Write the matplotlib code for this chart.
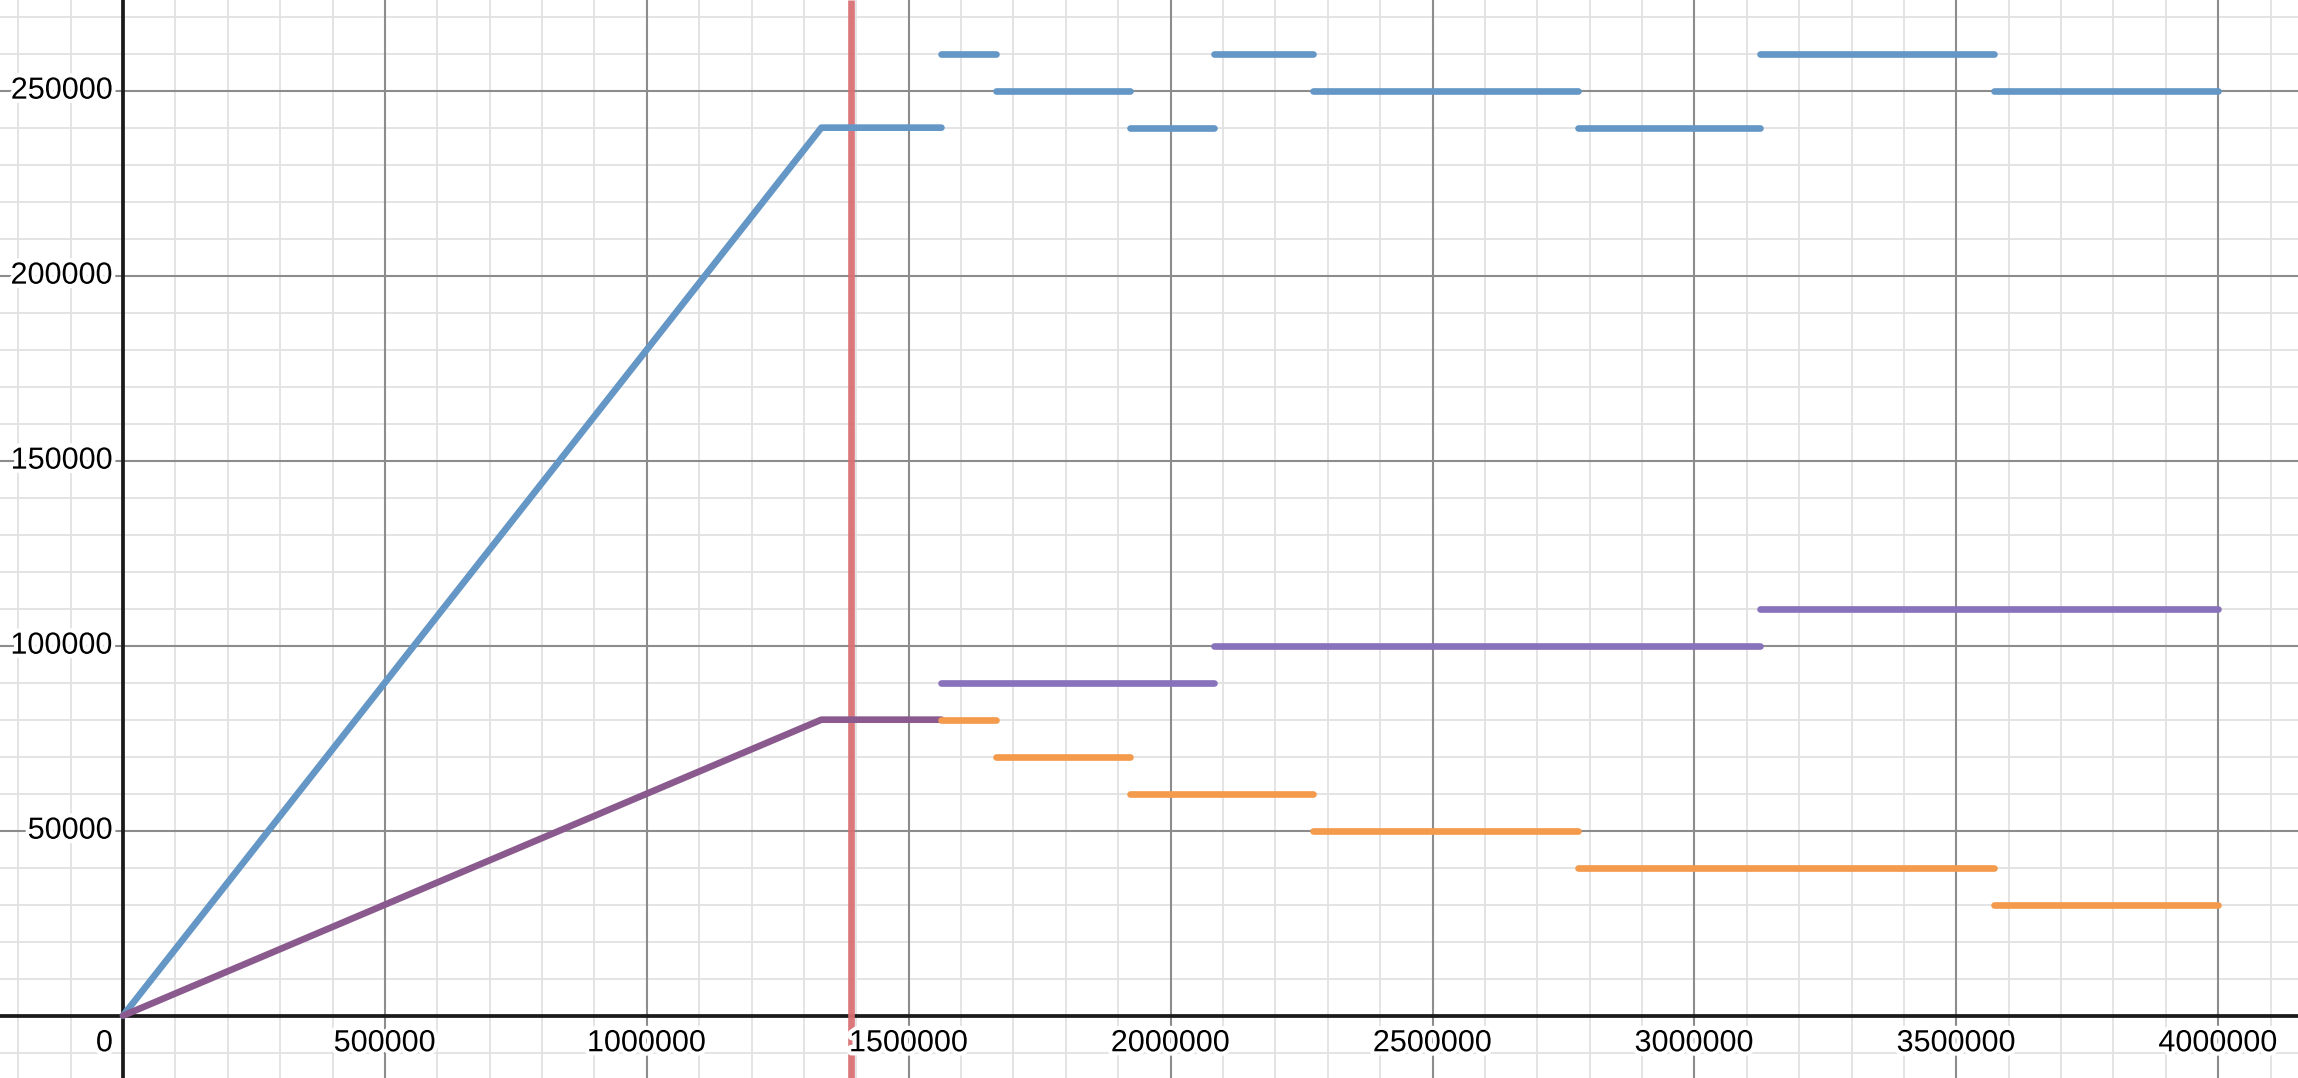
import matplotlib
matplotlib.use("Agg")
import matplotlib.pyplot as plt
import matplotlib.patheffects as pe
import numpy as np

plt.rcParams['font.family'] = ['Liberation Sans', 'DejaVu Sans']

# ---- data ----
# ramp segments (start at origin, knee, then flat)
blue_ramp_x = [0, 1333333, 1562500]
blue_ramp_y = [0, 240000, 240000]
purple_ramp_x = [0, 1333333, 1562500]
purple_ramp_y = [0, 80000, 80000]

# horizontal step segments: (x_start, x_end, y)
blue_x0 = [1562500, 1666667, 1923077, 2083333, 2272727, 2777778, 3125000, 3571429]
blue_x1 = [1666667, 1923077, 2083333, 2272727, 2777778, 3125000, 3571429, 4000000]
blue_y  = [260000, 250000, 240000, 260000, 250000, 240000, 260000, 250000]

orange_x0 = [1562500, 1666667, 1923077, 2272727, 2777778, 3571429]
orange_x1 = [1666667, 1923077, 2272727, 2777778, 3571429, 4000000]
orange_y  = [80000, 70000, 60000, 50000, 40000, 30000]

violet_x0 = [1562500, 2083333, 3125000]
violet_x1 = [2083333, 3125000, 4000000]
violet_y  = [90000, 100000, 110000]

red_vline_x = 1389000

x_ticks = [500000, 1000000, 1500000, 2000000, 2500000, 3000000, 3500000, 4000000]
y_ticks = [50000, 100000, 150000, 200000, 250000]

# ---- figure ----
W, H, DPI = 2298, 1078, 100
fig = plt.figure(figsize=(W / DPI, H / DPI), dpi=DPI)
ax = fig.add_axes([0, 0, 1, 1])
xmin, xmax = -234800, 4152300
ymin, ymax = -16840, 274500
ax.set_xlim(xmin, xmax)
ax.set_ylim(ymin, ymax)
ax.set_axis_off()

# grid
for gx in np.arange(-200000, xmax, 100000):
    major = abs(gx % 500000) < 1
    if abs(gx) < 1:
        continue
    ax.axvline(gx, color='#8c8c8c' if major else '#e2e2e2', lw=1.5 if major else 1.3, zorder=1 if major else 0.5)
for gy in np.arange(-10000, ymax, 10000):
    major = abs(gy % 50000) < 1
    if abs(gy) < 1:
        continue
    ax.axhline(gy, color='#8c8c8c' if major else '#e2e2e2', lw=1.5 if major else 1.3, zorder=1 if major else 0.5)

# axes
ax.axhline(0, color='#1a1a1a', lw=2.7, zorder=2)
ax.axvline(0, color='#1a1a1a', lw=2.7, zorder=2)

LW = 4.8
# red vertical line
ax.axvline(red_vline_x, color='#d97174', lw=LW, alpha=0.95, zorder=3, solid_capstyle='butt')

c_blue = '#6497c6'
c_mauve = '#8a5a8e'
c_violet = '#8872bc'
c_orange = '#f39a4c'

ax.plot(blue_ramp_x, blue_ramp_y, color=c_blue, lw=LW, zorder=4, solid_capstyle='round', solid_joinstyle='round')
ax.plot(purple_ramp_x, purple_ramp_y, color=c_mauve, lw=LW, zorder=4, solid_capstyle='round', solid_joinstyle='round')

for a, b, y in zip(blue_x0, blue_x1, blue_y):
    ax.plot([a, b], [y, y], color=c_blue, lw=LW, zorder=4, solid_capstyle='round')
for a, b, y in zip(orange_x0, orange_x1, orange_y):
    ax.plot([a, b], [y, y], color=c_orange, lw=LW, zorder=4, solid_capstyle='round')
for a, b, y in zip(violet_x0, violet_x1, violet_y):
    ax.plot([a, b], [y, y], color=c_violet, lw=LW, zorder=4, solid_capstyle='round')

# tick labels
halo = [pe.withStroke(linewidth=6, foreground='white')]
fs = 22
for t in x_ticks:
    ax.text(t, -3400, f"{t}", ha='center', va='top', fontsize=fs, color='black',
            path_effects=halo, zorder=6)
ax.text(-19000, -3400, "0", ha='right', va='top', fontsize=fs, color='black',
        path_effects=halo, zorder=6)
for t in y_ticks:
    ax.text(-19000, t, f"{t}", ha='right', va='center', fontsize=fs, color='black',
            path_effects=halo, zorder=6)

fig.savefig("out.png", dpi=DPI)
